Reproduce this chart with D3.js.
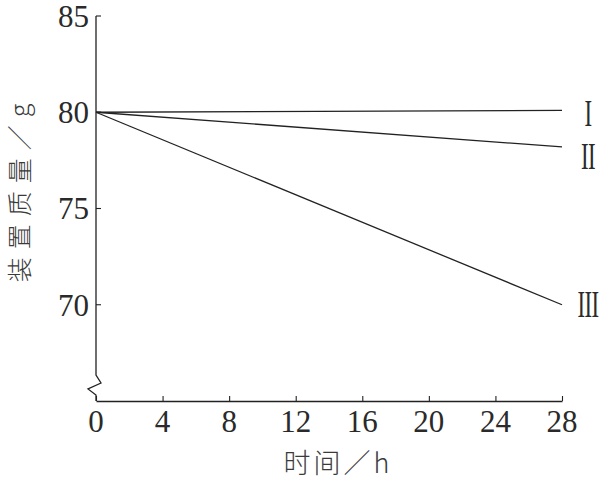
<!DOCTYPE html>
<html>
<head>
<meta charset="utf-8">
<script src="https://cdn.jsdelivr.net/npm/d3@7"></script>
<style>
  body { margin: 0; background: #fff; }
  svg { display: block; }
  .num { font-family: "Liberation Serif", "DejaVu Serif", serif; fill: #2a2a2a; }
  .cjk { font-family: "Noto Sans CJK SC", sans-serif; fill: #3a3a3a; font-weight: 300; }
</style>
</head>
<body>
<svg id="chart" width="600" height="484"></svg>
<script>
// data
const hours = [0, 28];
const seriesNames = ['I', 'II', 'III'];
const seriesI = [80, 80.1];
const seriesII = [80, 78.2];
const seriesIII = [80, 70];
const xTicks = [0, 4, 8, 12, 16, 20, 24, 28];
const yTicks = [70, 75, 80, 85];

const svg = d3.select('#chart');
const ink = '#222';

const x = d3.scaleLinear().domain([0, 28]).range([96, 562]);
const y = d3.scaleLinear().domain([65, 85]).range([401, 16]);

// x axis, ticks point up into the plot
const xAxis = svg.append('g')
  .attr('transform', 'translate(0,' + y(65) + ')')
  .call(d3.axisTop(x).tickValues(xTicks).tickSize(5).tickSizeOuter(0).tickFormat(''));
xAxis.select('.domain').attr('stroke', ink).attr('stroke-width', 1.3);
xAxis.selectAll('.tick line').attr('stroke', ink).attr('stroke-width', 1.1);

svg.append('g').selectAll('text')
  .data(xTicks)
  .join('text')
  .attr('class', 'num')
  .attr('x', d => x(d))
  .attr('y', 432)
  .attr('text-anchor', 'middle')
  .attr('font-size', 31)
  .text(d => d);

// y axis with a break near the bottom
const y0 = y(65), yTop = y(85), ax = x(0);
svg.append('path')
  .attr('d', 'M' + ax + ',' + yTop + 'V' + (y0 - 26) +
    'L' + (ax + 5) + ',' + (y0 - 18) +
    'L' + (ax - 8) + ',' + (y0 - 12) +
    'L' + ax + ',' + (y0 - 6) + 'V' + y0)
  .attr('fill', 'none')
  .attr('stroke', ink)
  .attr('stroke-width', 1.3);

svg.append('g').selectAll('line')
  .data(yTicks)
  .join('line')
  .attr('x1', ax).attr('x2', ax + 5)
  .attr('y1', d => y(d)).attr('y2', d => y(d))
  .attr('stroke', ink).attr('stroke-width', 1.1);

svg.append('g').selectAll('text')
  .data(yTicks)
  .join('text')
  .attr('class', 'num')
  .attr('x', 89)
  .attr('y', d => y(d))
  .attr('dy', '0.35em')
  .attr('text-anchor', 'end')
  .attr('font-size', 31)
  .text(d => d);

// series lines
const series = [seriesI, seriesII, seriesIII];
const line = d3.line().x((d, i) => x(hours[i])).y(d => y(d));
svg.append('g').selectAll('path')
  .data(series)
  .join('path')
  .attr('d', d => line(d))
  .attr('fill', 'none')
  .attr('stroke', ink)
  .attr('stroke-width', 1.3);

// roman numeral labels at the line ends, tall and narrow like the print
svg.append('g').selectAll('text')
  .data(series)
  .join('text')
  .attr('class', 'num')
  .attr('transform', (d, i) =>
    'translate(588,' + [y(d[1]) + 3, y(d[1]) + 10, y(d[1])][i] + ') scale(0.6,1)')
  .attr('dy', '0.33em')
  .attr('text-anchor', 'middle')
  .attr('font-size', 38)
  .attr('letter-spacing', -1)
  .text((d, i) => seriesNames[i]);

// axis titles
svg.append('text')
  .attr('class', 'cjk')
  .attr('x', 338)
  .attr('y', 473)
  .attr('text-anchor', 'middle')
  .attr('font-size', 27)
  .attr('letter-spacing', 3)
  .text('时间／h');

svg.append('text')
  .attr('class', 'cjk')
  .attr('transform', 'translate(29,189) rotate(-90)')
  .attr('text-anchor', 'middle')
  .attr('font-size', 25)
  .attr('letter-spacing', 8)
  .text('装置质量／g');
</script>
</body>
</html>
